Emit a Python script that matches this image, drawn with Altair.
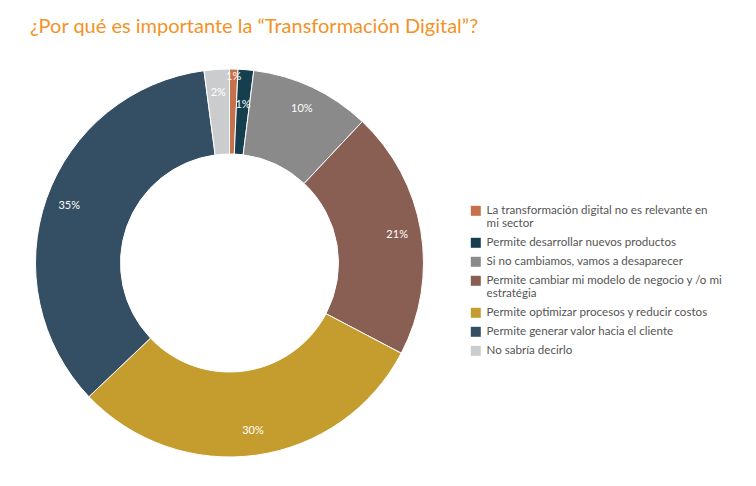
import altair as alt
import pandas as pd

categories = [
    "La transformación digital no es relevante en\nmi sector",
    "Permite desarrollar nuevos productos",
    "Si no cambiamos, vamos a desaparecer",
    "Permite cambiar mi modelo de negocio y /o mi\nestratégia",
    "Permite optimizar procesos y reducir costos",
    "Permite generar valor hacia el cliente",
    "No sabría decirlo",
]
values = [0.7, 1.3, 10.0, 20.7, 30.2, 35.0, 2.1]
labels = ["1%", "1%", "10%", "21%", "30%", "35%", "2%"]
colors = ["#C5714B", "#153F4E", "#898A89", "#8A5F53", "#C49D2E", "#344F63", "#CBCCCE"]

df = pd.DataFrame({
    "categoria": categories,
    "valor": values,
    "etiqueta": labels,
    "orden": list(range(len(categories))),
})

base = alt.Chart(df).encode(
    theta=alt.Theta("valor:Q", stack=True),
    order=alt.Order("orden:Q"),
)

arcs = base.mark_arc(outerRadius=194, innerRadius=109, stroke="white", strokeWidth=1).encode(
    color=alt.Color(
        "categoria:N",
        scale=alt.Scale(domain=categories, range=colors),
        legend=alt.Legend(
            title=None,
            orient="none",
            legendX=462,
            legendY=142,
            symbolType="square",
            symbolSize=100,
            symbolStrokeWidth=0,
            labelFont="Lato",
            labelFontSize=11.6,
            labelColor="#555555",
            labelOffset=5,
            rowPadding=6,
            labelLimit=320,
            labelExpr="split(datum.label, '\\n')",
        ),
    )
)

text_main = base.mark_text(radius=170, font="Lato", fontSize=11, color="white").encode(
    text="etiqueta:N",
    opacity=alt.condition("datum.orden >= 2", alt.value(1), alt.value(0)),
)
text_a = base.mark_text(radius=186, font="Lato", fontSize=11, color="white").encode(
    text="etiqueta:N",
    opacity=alt.condition("datum.orden == 0", alt.value(1), alt.value(0)),
)
text_b = base.mark_text(radius=159, font="Lato", fontSize=11, color="white").encode(
    text="etiqueta:N",
    opacity=alt.condition("datum.orden == 1", alt.value(1), alt.value(0)),
)

chart = alt.layer(arcs, text_main, text_a, text_b).properties(
    width=443,
    height=400,
    padding={"left": 0, "top": 55, "right": 297, "bottom": 15},
    autosize=alt.AutoSizeParams(type="none"),
    background="white",
    title=alt.TitleParams(
        "¿Por qué es importante la “Transformación Digital”?",
        anchor="start",
        font="Lato",
        fontSize=20,
        fontWeight="normal",
        color="#F39227",
        dx=22,
        offset=26,
    ),
).configure_view(strokeWidth=0)

chart.save("out.html", embed_options={"renderer": "svg", "actions": False})
